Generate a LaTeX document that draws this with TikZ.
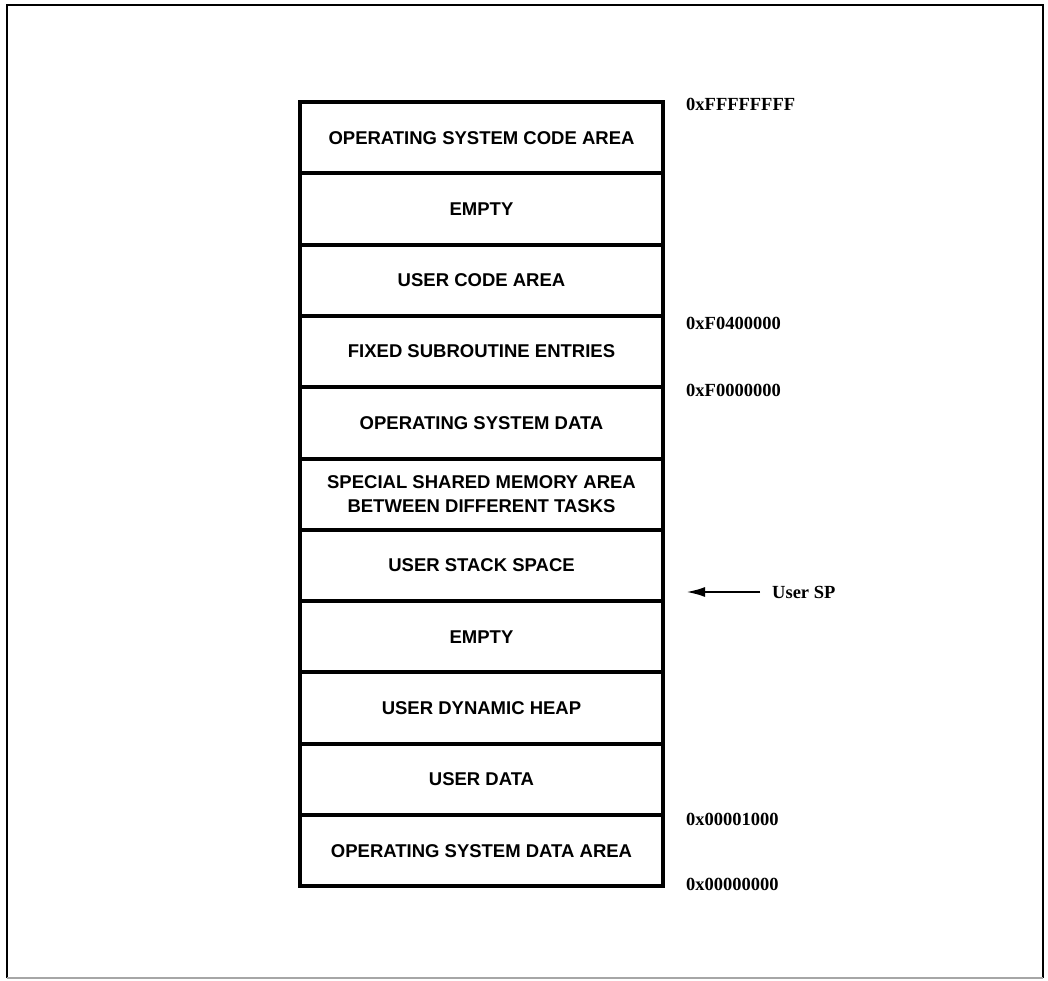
\documentclass[tikz,border=0pt]{standalone}
\usepackage{fontspec}
\setmainfont{Liberation Serif}
\newfontfamily\cellfont{Liberation Sans}
\usetikzlibrary{arrows.meta,positioning}

\begin{document}
\begin{tikzpicture}[x=1pt, y=1pt,
    cell/.style={draw, line width=4pt, outer sep=0pt, minimum width=363pt, minimum height=71.3pt,
        align=center, font=\cellfont\bfseries\fontsize{18.5}{24}\selectfont},
    addr/.style={anchor=west, inner sep=0pt, font=\bfseries\fontsize{18.5}{22}\selectfont},
    arrow/.style={-{Latex[length=19pt,width=10pt]}, line width=2.5pt}
]
\useasboundingbox (0,0) rectangle (1048,-981);
% outer frame
\draw[line width=2.5pt] (7,-978) -- (7,-5) -- (1043,-5) -- (1043,-978);
\draw[black!35, line width=1.5pt] (7,-978) -- (1043,-978);

% memory map, top to bottom
\node[cell] (oscode) at (481.5,-137.65) {OPERATING SYSTEM CODE AREA};
\node[cell, below=0pt of oscode] (empty1) {EMPTY};
\node[cell, below=0pt of empty1] (ucode) {USER CODE AREA};
\node[cell, below=0pt of ucode] (fixed) {FIXED SUBROUTINE ENTRIES};
\node[cell, below=0pt of fixed] (osdata) {OPERATING SYSTEM DATA};
\node[cell, below=0pt of osdata] (shared) {SPECIAL SHARED MEMORY AREA\\BETWEEN DIFFERENT TASKS};
\node[cell, below=0pt of shared] (ustack) {USER STACK SPACE};
\node[cell, below=0pt of ustack] (empty2) {EMPTY};
\node[cell, below=0pt of empty2] (heap) {USER DYNAMIC HEAP};
\node[cell, below=0pt of heap] (udata) {USER DATA};
\node[cell, below=0pt of udata] (osarea) {OPERATING SYSTEM DATA AREA};

% addresses
\node[addr, right=23pt of oscode.north east, yshift=-2pt] (aFFFF) {0xFFFFFFFF};
\node[addr, right=23pt of fixed.north east, yshift=-8pt] (aF040) {0xF0400000};
\node[addr, right=23pt of osdata.north east, yshift=-3pt] (aF000) {0xF0000000};
\node[addr, right=23pt of osarea.north east, yshift=-4pt] (a1000) {0x00001000};
\node[addr, right=23pt of osarea.south east, yshift=2pt] (a0000) {0x00000000};

% stack pointer
\node[addr] (usersp) at (772,-592) {User SP};
\coordinate (sptip) at (686,-592);
\draw[arrow, shorten <=12pt] (usersp) -- (sptip);
\end{tikzpicture}
\end{document}
